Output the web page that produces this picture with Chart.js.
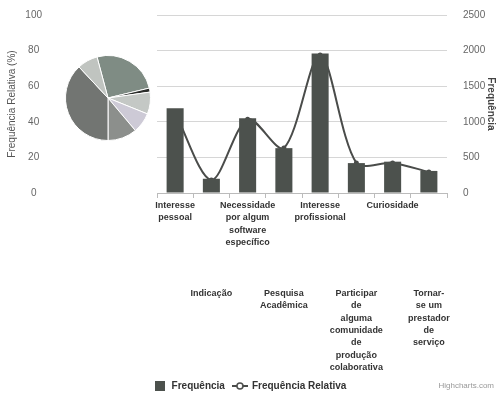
<!DOCTYPE html>
<html>
<head>
<meta charset="utf-8">
<script src="https://cdn.jsdelivr.net/npm/chart.js@4.4.0/dist/chart.umd.min.js"></script>
<style>
  body { margin: 0; background: #fff; }
  #wrap { position: relative; width: 499px; height: 398px; }
  #mainChart { position: absolute; left: 0; top: 0; }
  #pieChart { position: absolute; left: 65px; top: 55px; }
  #credit { position: absolute; right: 5px; top: 381px; font: 8px "Liberation Sans", Arial, sans-serif; color: #999; }
</style>
</head>
<body>
<div id="wrap">
  <canvas id="mainChart" width="499" height="398"></canvas>
  <canvas id="pieChart" width="86" height="86"></canvas>
  <div id="credit">Highcharts.com</div>
</div>
<script>
// Motivos (categorias), quebrados em linhas como aparecem no eixo
const categorias = [
    ['Interesse', 'pessoal'],
    ['Indicação'],
    ['Necessidade', 'por algum', 'software', 'específico'],
    ['Pesquisa', 'Acadêmica'],
    ['Interesse', 'profissional'],
    ['Participar', 'de', 'alguma', 'comunidade', 'de', 'produção', 'colaborativa'],
    ['Curiosidade'],
    ['Tornar-', 'se um', 'prestador', 'de', 'serviço']
];

// Frequência absoluta (eixo direito)
const frequencia = [1190, 200, 1050, 630, 1960, 420, 440, 310];

// Frequência relativa (eixo esquerdo, %)
const frequenciaRelativa = [45, 7.3, 41.5, 25.3, 77.5, 16.9, 16.9, 11.8];

// Ticks dos eixos
const ticksRelativa = { min: 0, max: 100, step: 20 };
const ticksFrequencia = { min: 0, max: 2500, step: 500 };

// Fatias do gráfico de pizza (graus)
const pizzaValores = [91.5, 5.5, 30, 28, 40, 137, 28];
const pizzaCores = ['#7f8c84', '#2b2d2b', '#c4c8c5', '#cdcad6', '#8c8f8c', '#727572', '#c0c4c0'];

const fonte = '"Liberation Sans", Arial, sans-serif';
const corBarra = '#4c514d';
const corLinha = '#4a4c4a';

// icones da legenda
function iconeBarra() {
    const c = document.createElement('canvas');
    c.width = 10; c.height = 10;
    const g = c.getContext('2d');
    g.fillStyle = corBarra;
    g.fillRect(0, 0, 10, 10);
    return c;
}

function iconeLinha() {
    const c = document.createElement('canvas');
    c.width = 16; c.height = 10;
    const g = c.getContext('2d');
    g.strokeStyle = corLinha;
    g.lineWidth = 2;
    g.beginPath(); g.moveTo(0, 5); g.lineTo(16, 5); g.stroke();
    g.beginPath(); g.arc(8, 5, 3, 0, Math.PI * 2);
    g.fillStyle = '#fff'; g.fill(); g.lineWidth = 1.5; g.stroke();
    return c;
}

const fonteRotulo = { family: fonte, size: 9, weight: 'bold', lineHeight: 1.38 };

// largura fixa dos eixos verticais sem o padding extra dos ticks
function fixarEixoY(largura) {
    return function (scale) {
        scale.width = largura;
        scale.paddingTop = 6;
        scale.paddingBottom = 6;
    };
}

new Chart(document.getElementById('mainChart'), {
    type: 'bar',
    data: {
        labels: categorias,
        datasets: [{
            label: 'Frequência',
            data: frequencia,
            yAxisID: 'y1',
            backgroundColor: corBarra,
            categoryPercentage: 1,
            barPercentage: 0.47
        }, {
            type: 'line',
            label: 'Frequência Relativa',
            data: frequenciaRelativa,
            yAxisID: 'y',
            borderColor: corLinha,
            backgroundColor: corLinha,
            borderWidth: 2,
            pointRadius: 1.5,
            tension: 0.3,
            fill: false
        }]
    },
    options: {
        responsive: false,
        animation: false,
        layout: { padding: { top: 15, right: 0, bottom: -3, left: 0 } },
        plugins: {
            tooltip: { enabled: false },
            legend: {
                position: 'bottom',
                labels: {
                    usePointStyle: true,
                    pointStyleWidth: 14,
                    padding: 8,
                    color: '#333',
                    font: { family: fonte, size: 10, weight: 'bold' },
                    generateLabels(chart) {
                        const items = Chart.defaults.plugins.legend.labels.generateLabels(chart);
                        items[0].pointStyle = iconeBarra();
                        items[1].pointStyle = iconeLinha();
                        return items;
                    }
                }
            }
        },
        scales: {
            x: {
                position: 'bottom',
                offset: true,
                weight: 0,
                grid: { display: true, drawOnChartArea: false, tickLength: 5, color: '#bbb', offset: true },
                border: { display: true, color: '#bbb' },
                ticks: {
                    autoSkip: false, maxRotation: 0, minRotation: 0, padding: 1,
                    color: '#333', font: fonteRotulo,
                    callback(value, index) { return index % 2 === 0 ? this.getLabelForValue(value) : ''; }
                },
                afterFit(scale) { scale.height = 87; }
            },
            x2: {
                type: 'category',
                position: 'bottom',
                offset: true,
                weight: 1,
                grid: { display: false, drawTicks: false },
                border: { display: false },
                ticks: {
                    autoSkip: false, maxRotation: 0, minRotation: 0, padding: 7,
                    color: '#333', font: fonteRotulo,
                    callback(value, index) { return index % 2 === 1 ? this.getLabelForValue(value) : ''; }
                },
                afterFit(scale) { scale.height = 93; }
            },
            y: {
                position: 'left',
                min: ticksRelativa.min,
                max: ticksRelativa.max,
                ticks: { stepSize: ticksRelativa.step, padding: 115, crossAlign: 'center', color: '#666', font: { family: fonte, size: 10 } },
                grid: { color: '#d6d6d6', drawTicks: false },
                border: { display: false },
                title: { display: true, text: 'Frequência Relativa (%)', color: '#555', font: { family: fonte, size: 10 }, padding: { top: 6, bottom: 0 } },
                afterFit: fixarEixoY(157)
            },
            y1: {
                position: 'right',
                min: ticksFrequencia.min,
                max: ticksFrequencia.max,
                ticks: { stepSize: ticksFrequencia.step, padding: 16, color: '#666', font: { family: fonte, size: 10 },
                    callback: v => String(v) },
                grid: { drawOnChartArea: false, drawTicks: false },
                border: { display: false },
                title: { display: true, text: 'Frequência', color: '#444', font: { family: fonte, size: 10, weight: 'bold' }, padding: { top: 2, bottom: 0 } },
                afterFit: fixarEixoY(52)
            }
        }
    }
});

// pizza sobreposta no canto esquerdo
new Chart(document.getElementById('pieChart'), {
    type: 'pie',
    data: {
        labels: pizzaValores.map((v, i) => 'Fatia ' + (i + 1)),
        datasets: [{
            data: pizzaValores,
            backgroundColor: pizzaCores,
            borderColor: '#fff',
            borderWidth: 1
        }]
    },
    options: {
        responsive: false,
        animation: false,
        rotation: -15,
        layout: { padding: 0 },
        plugins: { legend: { display: false }, tooltip: { enabled: false } }
    }
});
</script>
</body>
</html>
